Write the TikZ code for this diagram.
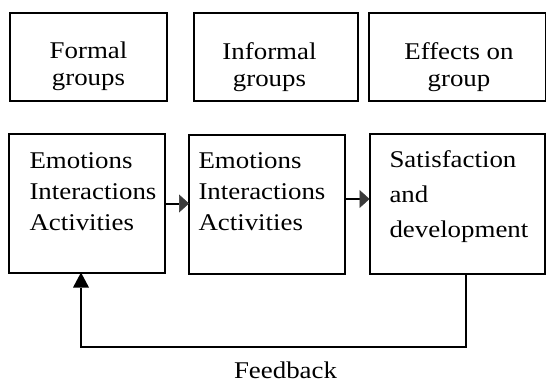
\documentclass[tikz,border=0pt]{standalone}
\usepackage{fontspec}
\setmainfont{Liberation Serif}[FakeStretch=1.12]
\usetikzlibrary{arrows.meta}
\definecolor{headgrey}{HTML}{3A3A3A}
\tikzset{
  box/.style={draw=black, line width=2pt, inner sep=0pt, outer sep=0pt, anchor=north west},
  toptext/.style={inner sep=0pt, align=center, anchor=base, font=\fontsize{24}{26.7}\selectfont},
  bottext/.style={inner sep=0pt, align=left, anchor=base west, font=\fontsize{24}{31}\selectfont},
  conn/.style={draw=black, line width=2pt, -{Triangle[length=10pt,width=18pt,color=headgrey,line width=0.5pt]}},
  fbconn/.style={draw=black, line width=2pt, line join=miter, -{Triangle[length=15pt,width=16pt,line width=0pt]}},
}
\begin{document}
\begin{tikzpicture}[x=1pt,y=-1pt]
\useasboundingbox (0,0) rectangle (546,383);
% top row
\node[box, minimum width=156.5pt, minimum height=88.5pt] (t1) at (10,12.5) {};
\node[box, minimum width=164pt, minimum height=88.5pt] (t2) at (194,12.5) {};
\node[box, minimum width=177pt, minimum height=88.5pt] (t3) at (368.5,12.5) {};
\node[toptext] (t1l) at (88.5,85) {Formal\\groups};
\node[toptext] (t2l) at (269.5,86) {Informal\\groups};
\node[toptext] (t3l) at (459,86) {Effects on\\group};
% bottom row
\node[box, minimum width=155.5pt, minimum height=138.5pt] (a) at (9,134) {};
\node[box, minimum width=155.5pt, minimum height=138.5pt] (b) at (189,135) {};
\node[box, minimum width=175.5pt, minimum height=140pt] (c) at (369.5,133.5) {};
\node[bottext] (al) at (29.3,230) {Emotions\\Interactions\\Activities};
\node[bottext] (bl) at (198.3,230.5) {Emotions\\Interactions\\Activities};
\node[bottext, font=\fontsize{24}{35}\selectfont] (cl) at (389.3,237.3) {Satisfaction\\and\\development};
% connectors
\coordinate (y1) at (0,203.5);
\coordinate (y2) at (0,199);
\draw[conn] (a.east |- y1) -- (b.west |- y1);
\draw[conn] (b.east |- y2) -- (c.west |- y2);
\coordinate (fr) at (466,347.3);
\coordinate (fl) at (81,347.3);
\draw[fbconn] (c.south -| fr) -- (fr) -- (fl) -- (a.south -| fl);
\node[inner sep=0pt, anchor=base, font=\fontsize{24}{28}\selectfont] (fbl) at (285.5,378) {Feedback};
\end{tikzpicture}
\end{document}
